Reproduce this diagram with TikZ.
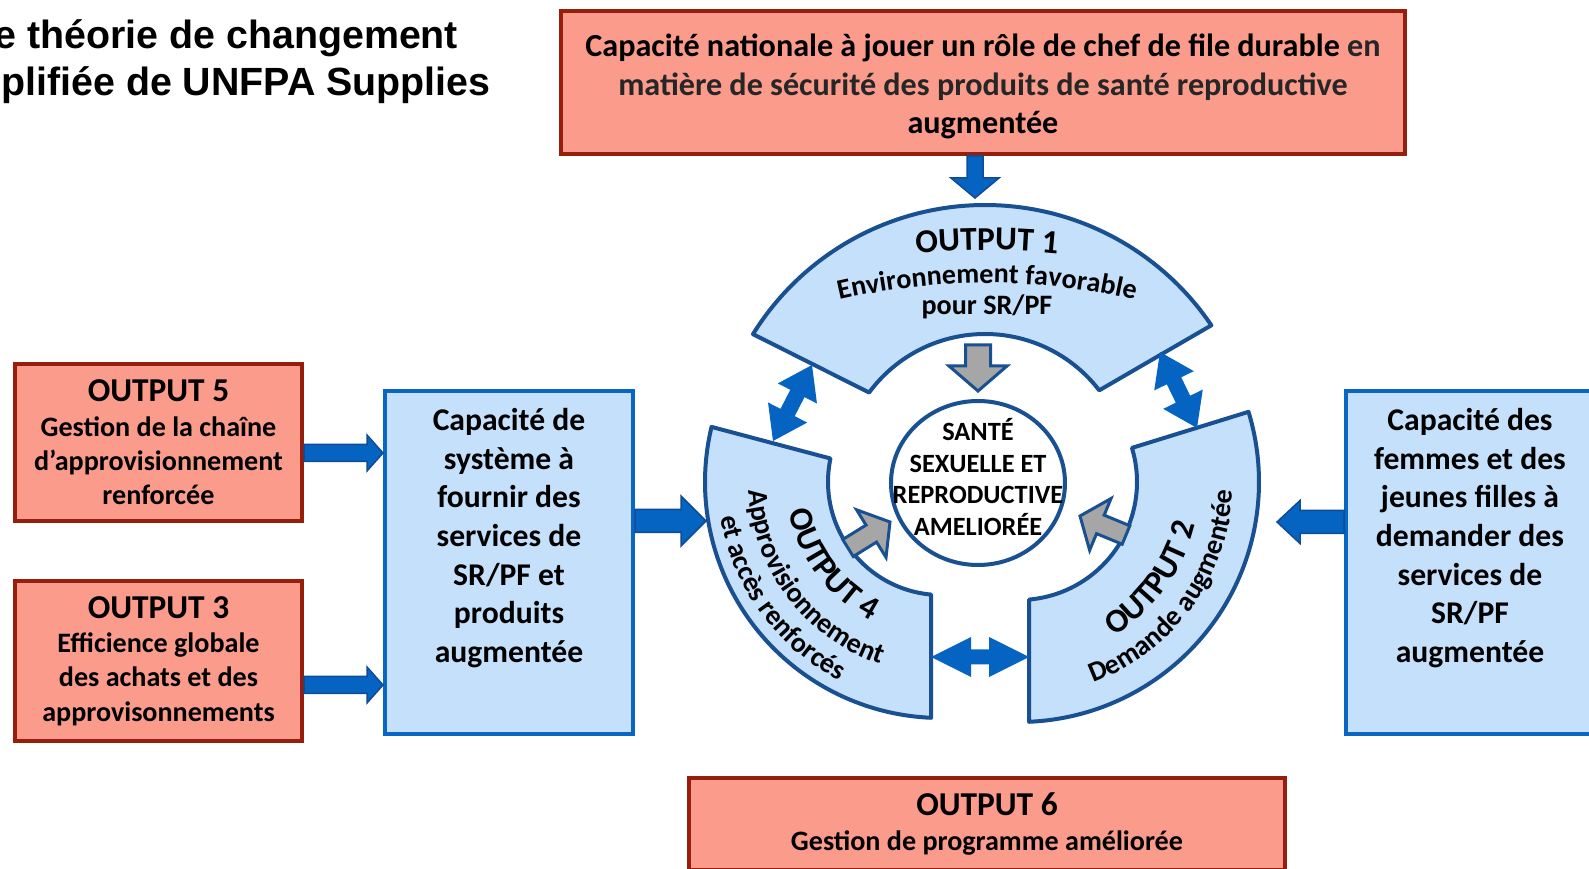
\documentclass[tikz,border=0pt]{standalone}
\usepackage{fontspec}
\setmainfont{Carlito}
\newfontfamily\titlefont{Liberation Sans}
\usetikzlibrary{positioning,calc,decorations.text,shapes.geometric}
\definecolor{salmon}{RGB}{250,155,140}
\definecolor{brick}{RGB}{150,30,12}
\definecolor{paleblue}{RGB}{197,224,250}
\definecolor{boxblue}{RGB}{10,102,196}
\definecolor{navy}{RGB}{25,80,145}
\definecolor{arrowblue}{RGB}{5,99,193}
\definecolor{arrowedge}{RGB}{15,75,150}
\definecolor{midgray}{RGB}{166,166,166}
\definecolor{txtgray}{RGB}{38,38,38}
\newcommand\outfont{\fontsize{19}{22}\selectfont}
\newcommand\subfont{\fontsize{16}{19.5}\selectfont}
\newcommand\boxfont{\fontsize{18}{22}\selectfont}
\newcommand\healthfont{\fontsize{15}{18}\selectfont}
% block arrow: [style]{from}{to}{half shaft}{half head}{head length}
\newcommand\blockarr[6][]{%
  \path (#2) coordinate (ba-a) (#3) coordinate (ba-b);
  \path ($(ba-b)!#6!(ba-a)$) coordinate (ba-h);
  \filldraw[#1] ($(ba-a)!#4!90:(ba-b)$) -- ($(ba-h)!#4!-90:(ba-a)$)
    -- ($(ba-h)!#5!-90:(ba-a)$) -- (ba-b) -- ($(ba-h)!#5!90:(ba-a)$)
    -- ($(ba-h)!#4!90:(ba-a)$) -- ($(ba-a)!#4!-90:(ba-b)$) -- cycle;
}
% double block arrow, same arguments
\newcommand\dblarr[6][]{%
  \path (#2) coordinate (ba-a) (#3) coordinate (ba-b);
  \path ($(ba-b)!#6!(ba-a)$) coordinate (ba-h) ($(ba-a)!#6!(ba-b)$) coordinate (ba-g);
  \filldraw[#1] (ba-a) -- ($(ba-g)!#5!-90:(ba-a)$) -- ($(ba-g)!#4!-90:(ba-a)$)
    -- ($(ba-h)!#4!90:(ba-b)$) -- ($(ba-h)!#5!90:(ba-b)$) -- (ba-b)
    -- ($(ba-h)!#5!-90:(ba-b)$) -- ($(ba-h)!#4!-90:(ba-b)$)
    -- ($(ba-g)!#4!90:(ba-a)$) -- ($(ba-g)!#5!90:(ba-a)$) -- cycle;
}
\tikzset{%
    redbox/.style={draw=brick, fill=salmon, line width=0.8mm, align=center, font=\bfseries\subfont},
    bluebox/.style={draw=boxblue, fill=paleblue, line width=0.8mm},
    boxtext/.style={align=center, font=\bfseries\boxfont},
    segment/.style={draw=navy, fill=paleblue, line width=0.8mm, line join=round},
    bluearrow/.style={fill=arrowblue, draw=arrowedge, line width=0.3mm},
    linkarrow/.style={fill=arrowblue, draw=none},
    grayarrow/.style={fill=midgray, draw=navy, line width=0.6mm},
    ringtext/.style={decorate, decoration={text along path, text align=center, text={#1}}}
}

\begin{document}
\begin{tikzpicture}[x=0.2mm, y=-0.2mm]
        \useasboundingbox (0,0) rectangle (1589,869);

        \node[anchor=base west, inner sep=0, font=\titlefont\bfseries\fontsize{22.4}{26}\selectfont] (title1) at (-6,49) {e théorie de changement};
        \node[anchor=base west, inner sep=0, font=\titlefont\bfseries\fontsize{22.4}{26}\selectfont] (title2) at (1,96) {plifiée de UNFPA Supplies};

        \node[redbox, minimum width=168.8mm, minimum height=28.6mm] (top) at (983,82.5) {};
        \node[align=center, font=\bfseries\fontsize{18.3}{22}\selectfont] (topl) at (983,86.5)
            {Capacité nationale à jouer un rôle de chef de file durable \textcolor{txtgray}{en}\\
             \textcolor{txtgray}{matière de sécurité des produits de santé reproductive}\\ augmentée};
        \node[redbox, minimum width=57.4mm, minimum height=31.4mm] (o5) at (158.5,442.5)
            {{\outfont OUTPUT 5}\\ Gestion de la chaîne\\ d’approvisionnement\\ renforcée};
        \node[redbox, minimum width=57.4mm, minimum height=32mm] (o3) at (158.5,661)
            {{\outfont OUTPUT 3}\\ Efficience globale\\ des achats et des\\ approvisonnements};
        \node[redbox, minimum width=119.2mm, minimum height=18.4mm] (o6) at (987,824)
            {{\outfont OUTPUT 6}\\ Gestion de programme améliorée};

        \node[bluebox, minimum width=49.6mm, minimum height=68.6mm] (sys) at (509,562.5) {};
        \node[boxtext, below=2.6mm of sys.north] (sysl)
            {Capacité de\\ système à\\ fournir des\\ services de\\ SR/PF et\\ produits\\ augmentée};
        \node[bluebox, minimum width=50.8mm, minimum height=68.6mm] (dem) at (1473,562.5) {};
        \node[boxtext, below=2.6mm of dem.north, xshift=-0.6mm] (deml)
            {Capacité des\\ femmes et des\\ jeunes filles à\\ demander des\\ services de\\ SR/PF\\ augmentée};

        % ring
        \draw[segment] ([shift={(985,478)}]-148.2:273) arc[start angle=-148.2, end angle=-34, radius=273]
            -- ([shift={(985,478)}]-37.5:144) arc[start angle=-37.5, end angle=-143.6, radius=144] -- cycle;
        \draw[segment] ([shift={(941,482)}]-166.5:236) arc[start angle=-166.5, end angle=-267.6, radius=236]
            -- ([shift={(941,482)}]-265:113) arc[start angle=-265, end angle=-168, radius=113] -- cycle;
        \draw[segment] ([shift={(1019,482)}]87.6:240) arc[start angle=87.6, end angle=-17, radius=240]
            -- ([shift={(1019,482)}]-16.8:118) arc[start angle=-16.8, end angle=85.1, radius=118] -- cycle;

        \path[ringtext={|\bfseries\outfont|OUTPUT 1}] ([shift={(987,950)}]-110:700) arc[start angle=-110, end angle=-70, radius=700];
        \path[ringtext={|\bfseries\subfont|Environnement favorable}] ([shift={(987,933)}]-108:650) arc[start angle=-108, end angle=-72, radius=650];
        \node[anchor=base, font=\bfseries\subfont] (o1l) at (987,315) {pour SR/PF};

        \path[ringtext={|\bfseries\outfont|OUTPUT 4}] ([shift={(941,482)}]-182:155) arc[start angle=-182, end angle=-252, radius=155];
        \path[ringtext={|\bfseries\subfont|Approvisionnement}] ([shift={(941,482)}]-177:192) arc[start angle=-177, end angle=-257, radius=192];
        \path[ringtext={|\bfseries\subfont|et accès renforcés}] ([shift={(941,482)}]-181:223) arc[start angle=-181, end angle=-251, radius=223];

        \path[ringtext={|\bfseries\outfont|OUTPUT 2}] ([shift={(1019,482)}]-289:181) arc[start angle=-289, end angle=-359, radius=181];
        \path[ringtext={|\bfseries\subfont|Demande augmentée}] ([shift={(1019,482)}]-284:214) arc[start angle=-284, end angle=-364, radius=214];

        \node[draw=navy, fill=white, line width=0.8mm, ellipse, minimum width=34.8mm, minimum height=32.8mm, inner sep=0] (health) at (978,483) {};
        \node[align=center, font=\bfseries\healthfont] (healthl) at (978,477) {SANTÉ\\ SEXUELLE ET\\ REPRODUCTIVE\\ AMELIORÉE};

        \coordinate (o1n) at (975,198);
        \coordinate (o4w) at (706,521);
        \coordinate (o2e) at (1277,522);
        \coordinate (s5) at (383,453);
        \coordinate (s3) at (383,685);
        \coordinate (o1sw) at (812,365);
        \coordinate (o4n) at (773,441);
        \coordinate (o1se) at (1160,352);
        \coordinate (o2n) at (1197,428);
        \coordinate (o4se) at (931,657);
        \coordinate (o2sw) at (1029,657);
        \coordinate (o1i) at (978,345);
        \coordinate (o4i) at (848,548);
        \coordinate (o2i) at (1126,535);
        \coordinate (hn) at (978,391);
        \coordinate (hw) at (890,522);
        \coordinate (he) at (1080,516);

        \blockarr[bluearrow]{top.south -| o1n}{o1n}{1.6mm}{4.8mm}{4mm}
        \blockarr[bluearrow]{o5.east |- s5}{s5}{1.7mm}{3.6mm}{3.2mm}
        \blockarr[bluearrow]{o3.east |- s3}{s3}{1.7mm}{3.6mm}{3.2mm}
        \blockarr[bluearrow]{sys.east |- o4w}{o4w}{2.3mm}{5mm}{5mm}
        \blockarr[bluearrow]{dem.west |- o2e}{o2e}{2.3mm}{4.3mm}{4.6mm}

        \dblarr[linkarrow]{o4n}{o1sw}{1.6mm}{4.4mm}{6.4mm}
        \dblarr[linkarrow]{o1se}{o2n}{1.6mm}{4.4mm}{6.4mm}
        \dblarr[linkarrow]{o4se}{o2sw}{1.5mm}{4mm}{8mm}

        \blockarr[grayarrow]{o1i}{hn}{2.5mm}{5.8mm}{5mm}
        \blockarr[grayarrow]{o4i}{hw}{2mm}{5.6mm}{4.4mm}
        \blockarr[grayarrow]{o2i}{he}{2mm}{5.6mm}{4.4mm}
    \end{tikzpicture}
\end{document}
